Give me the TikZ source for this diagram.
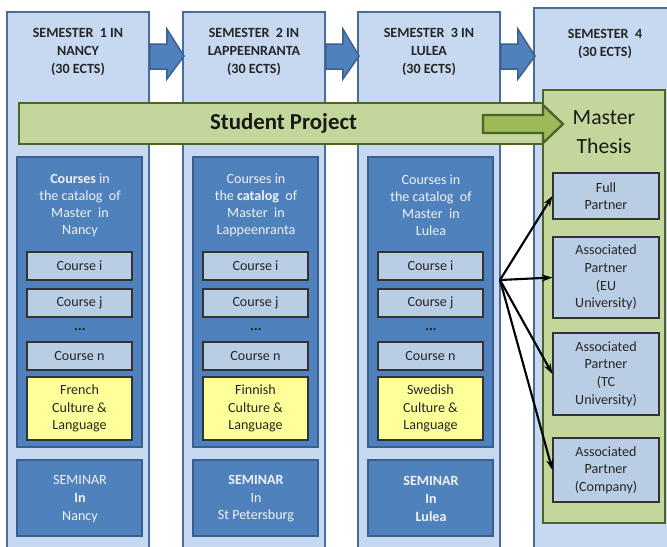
\documentclass[tikz,border=0pt]{standalone}
\usepackage{fontspec}
\setmainfont{Carlito}
\usepackage{tikz}
\usetikzlibrary{arrows.meta}
\usetikzlibrary{calc}
\definecolor{col_fill}{HTML}{C6D9F1}
\definecolor{col_line}{HTML}{4A6C9B}
\definecolor{dark_fill}{HTML}{4F81BD}
\definecolor{dark_line}{HTML}{3A5F8E}
\definecolor{course_fill}{HTML}{B9CDE5}
\definecolor{lang_fill}{HTML}{FFFF99}
\definecolor{green_fill}{HTML}{C3D69B}
\definecolor{green_arrow}{HTML}{9BBB59}
\definecolor{green_line}{HTML}{4F6228}
\tikzset{
every picture/.style={x=0.03cm, y=-0.03cm},
box_size/.style 2 args={minimum width=#1*0.03cm, minimum height=#2*0.03cm},
%%%%%%%%%%  Box styles
semester/.style={fill=col_fill, draw=col_line, line width=1.6pt, inner sep=0pt},
catalog/.style={fill=dark_fill, draw=dark_line, line width=2.4pt, inner sep=0pt},
course/.style={fill=course_fill, draw=black!80, line width=1pt, inner sep=0pt,
               font=\fontsize{12}{14.5}\selectfont, text=black!85, box_size={105}{28}},
culture/.style={course, fill=lang_fill, align=center, font=\fontsize{12}{15}\selectfont},
partner/.style={course, align=center, font=\fontsize{12}{15}\selectfont},
project/.style={fill=green_fill, draw=green_line, line width=2.4pt, inner sep=0pt,
                font=\fontsize{19.5}{22}\selectfont\bfseries, text=black!90},
thesis/.style={fill=green_fill, draw=green_line, line width=2.4pt, inner sep=0pt},
%%%%%%%%%%  Text styles
title/.style={font=\fontsize{12}{15.5}\selectfont\bfseries, align=center, text=black!85},
white_text/.style={font=\fontsize{12}{14.5}\selectfont, align=center, text=white!95!black},
seminar_text/.style={white_text, font=\fontsize{12}{15}\selectfont},
thesis_text/.style={font=\fontsize{18.5}{24.7}\selectfont, align=center, text=black!90},
dots/.style={font=\fontsize{12}{14}\selectfont\bfseries, text=black!90},
%%%%%%%%%%  Arrows
sem_arrow/.style={fill=dark_fill, draw=dark_line, line width=1.2pt},
green_block/.style={fill=green_arrow, draw=green_line, line width=2pt},
fan_arrow/.style={-{Stealth[length=9pt, width=6pt]}, line width=1.8pt}
}

\begin{document}
\begin{tikzpicture}
\useasboundingbox (0,0) rectangle (667,546);
\clip (0,0) rectangle (667,546);
% the three course semesters
\foreach \n/\dx/\lang in {1/0/French, 2/176/Finnish, 3/351/Swedish}{
  \node[semester, box_size={142}{558}] (sem\n) at (78+\dx,291) {};
  \node[catalog, box_size={125}{290}] (catalog\n) at (79.5+\dx,302) {};
  \node[course] (course_i\n) at (79.5+\dx,266) {Course i};
  \node[course] (course_j\n) at (79.5+\dx,303) {Course j};
  \node[dots] (dots\n) at (80+\dx,330) {...};
  \node[course] (course_n\n) at (79.5+\dx,356) {Course n};
  \node[culture, box_size={105}{63}] (culture\n) at (79.5+\dx,408.5) {\lang\\Culture \&\\Language};
  \node[catalog, box_size={125}{76}] (seminar\n) at (79.5+\dx,498) {};
}
\node[semester, box_size={144}{562}] (sem4) at (606,289) {};
% arrows between semesters
\foreach \a/\b in {1/2, 2/3, 3/4}
  \filldraw[sem_arrow] ($(sem\a.north east)+(0,33)$) -- ++(17,0) -- ++(0,-15)
    -- ($(sem\b.west |- sem\a.north)+(2,45)$) -- ($(sem\a.north east)+(17,68)$)
    -- ++(0,-10) -- ++(-17,0) -- cycle;
% titles
\node[title] (title1) at (78,52) {SEMESTER~ 1 IN\\NANCY\\(30 ECTS)};
\node[title] (title2) at (254,52) {SEMESTER~ 2 IN\\LAPPEENRANTA\\(30 ECTS)};
\node[title] (title3) at (429,52) {SEMESTER~ 3 IN\\LULEA\\(30 ECTS)};
\node[title] (title4) at (605,44) {SEMESTER~ 4\\(30 ECTS)};
% catalogs
\node[white_text] (cat_text1) at (80,205) {\textbf{Courses} in\\the catalog~ of\\Master~ in\\Nancy};
\node[white_text] (cat_text2) at (256,205) {Courses in\\the \textbf{catalog}~ of\\Master~ in\\Lappeenranta};
\node[white_text] (cat_text3) at (431,205) {Courses in\\the catalog~ of\\Master~ in\\Lulea};
% seminars
\node[seminar_text] (sem_text1) at (80,499) {SEMINAR\\\textbf{In}\\Nancy};
\node[seminar_text] (sem_text2) at (256,499) {\textbf{SEMINAR}\\In\\St Petersburg};
\node[seminar_text, font=\fontsize{12}{15}\selectfont\bfseries] (sem_text3) at (431,499) {SEMINAR\\In\\Lulea};
% student project and thesis
\node[project, box_size={529}{41}] (project) at (283.5,123.5) {Student Project};
\node[thesis, box_size={122}{433}] (thesis) at (604,306.5) {};
\filldraw[green_block] (483,115) -- (543,115) -- (543,105) -- (563,124)
  -- (543,143) -- (543,133) -- (483,133) -- cycle;
\node[thesis_text] (thesis_text) at (604,132) {Master\\Thesis};
\node[partner, box_size={106}{46}] (full) at (606,196) {Full\\Partner};
\node[partner, box_size={106}{81}] (eu) at (606,277.5) {Associated\\Partner\\(EU\\University)};
\node[partner, box_size={106}{82}] (tc) at (606,374) {Associated\\Partner\\(TC\\University)};
\node[partner, box_size={106}{64}] (company) at (606,470) {Associated\\Partner\\(Company)};
% thesis partners
\coordinate (fan) at (500,280);
\foreach \p in {full, eu, tc, company}
  \draw[fan_arrow] (fan) -- (\p.west);
\end{tikzpicture}
\end{document}
